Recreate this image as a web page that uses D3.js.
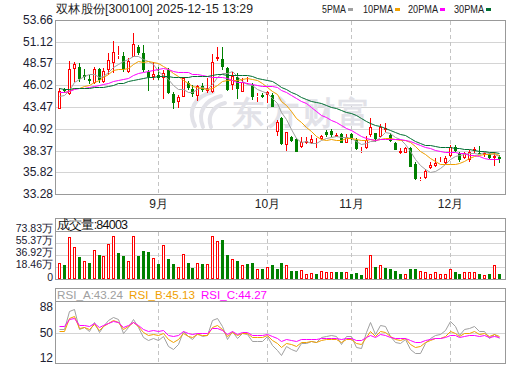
<!DOCTYPE html>
<html>
<head>
<meta charset="utf-8">
<script src="https://cdn.jsdelivr.net/npm/d3@7"></script>
<style>
  body { margin: 0; background: #fff; }
  svg text { font-family: "Liberation Sans", Arial, sans-serif; }
</style>
</head>
<body>
<div id="chart"></div>
<script>
// ---- data ----
var title = "双林股份[300100] 2025-12-15 13:29";
var volTitle = "成交量:84003";
var rsiTitles = ["RSI_A:43.24", "RSI_B:45.13", "RSI_C:44.27"];

var dates = [
  "08-04","08-05","08-06","08-07","08-08","08-11","08-12","08-13","08-14","08-15",
  "08-18","08-19","08-20","08-21","08-22","08-25","08-26","08-27","08-28","08-29",
  "09-01","09-02","09-03","09-04","09-05","09-08","09-09","09-10","09-11","09-12",
  "09-15","09-16","09-17","09-18","09-19","09-22","09-23","09-24","09-25","09-26",
  "09-29","09-30","10-09","10-10","10-13","10-14","10-15","10-16","10-17","10-20",
  "10-21","10-22","10-23","10-24","10-27","10-28","10-29","10-30","10-31","11-03",
  "11-04","11-05","11-06","11-07","11-10","11-11","11-12","11-13","11-14","11-17",
  "11-18","11-19","11-20","11-21","11-24","11-25","11-26","11-27","11-28","12-01",
  "12-02","12-03","12-04","12-05","12-08","12-09","12-10","12-11","12-12","12-15"
];

var open = [
  43.19,45.58,44.99,47.92,48.11,47.22,46.79,46.24,47.88,46.44,
  47.80,48.66,49.44,49.44,47.61,49.36,50.46,49.75,47.61,47.02,
  47.22,46.83,47.80,44.99,44.09,44.68,46.32,45.54,44.76,45.97,
  45.38,45.26,49.05,49.05,48.00,46.05,46.94,45.26,46.25,46.05,
  44.68,44.87,44.87,44.87,40.58,42.14,39.02,39.99,39.68,38.82,
  39.29,39.29,39.45,39.68,40.58,40.66,39.99,40.30,39.21,40.30,
  39.60,38.16,38.63,40.19,40.38,39.99,40.77,40.19,39.29,38.04,
  38.12,38.63,36.79,34.95,35.11,36.36,36.56,36.87,36.87,37.73,
  38.82,38.04,37.45,37.26,38.31,38.10,37.90,37.92,37.45,37.57
];
var close = [
  45.34,45.30,47.88,48.51,46.71,46.94,46.51,47.88,46.63,47.69,
  48.97,49.87,49.60,47.88,48.90,50.85,49.75,47.80,46.94,47.29,
  46.83,47.41,45.07,43.90,44.60,46.83,45.65,44.99,45.97,45.46,
  45.65,48.70,49.29,48.11,45.46,47.10,45.54,46.44,46.40,44.68,
  44.76,44.68,45.26,43.51,41.75,39.13,40.50,39.52,38.23,39.41,
  39.52,39.68,39.52,40.11,40.15,40.22,40.15,39.29,39.91,39.85,
  38.51,38.31,39.60,41.09,39.68,41.09,40.97,39.52,38.43,38.31,
  38.63,36.48,34.99,35.03,36.01,36.63,36.95,37.06,37.53,38.82,
  38.31,37.26,38.04,38.23,38.51,38.00,38.06,37.45,37.73,37.34
];
var high = [
  45.65,45.73,48.90,48.70,48.58,47.88,47.22,48.11,48.08,48.00,
  49.75,51.20,50.61,49.87,49.17,52.18,50.73,50.73,47.80,48.78,
  48.19,47.80,48.00,45.26,44.87,47.02,46.51,46.05,46.05,46.24,
  46.83,49.64,50.46,50.54,48.11,47.61,47.41,46.83,46.94,46.24,
  45.07,45.15,45.38,45.07,41.94,42.34,40.58,40.07,39.80,39.99,
  39.91,40.19,39.80,40.19,40.77,40.85,40.38,40.46,40.30,40.38,
  39.80,38.74,40.07,42.14,40.46,41.48,41.55,40.38,39.41,38.63,
  38.82,38.82,37.06,35.31,36.17,37.06,37.45,37.65,37.73,39.02,
  39.02,38.23,38.23,38.43,38.74,38.90,38.23,38.12,38.23,37.85
];
var low = [
  43.19,45.15,44.87,46.44,46.44,46.63,46.16,46.16,46.24,46.24,
  47.22,47.41,49.05,47.61,47.41,49.29,49.56,47.61,45.38,46.63,
  46.63,44.37,44.99,43.19,43.31,44.60,45.46,44.68,44.21,45.26,
  45.15,45.07,48.90,47.80,45.38,45.46,44.41,45.26,46.16,44.29,
  44.09,44.48,43.90,43.43,40.07,39.02,38.35,39.41,38.23,38.70,
  39.13,39.13,38.63,39.60,39.91,39.99,39.91,39.29,39.21,39.60,
  38.43,38.04,38.51,39.99,39.41,39.91,40.58,39.41,38.43,37.96,
  38.04,36.48,34.92,34.84,34.99,36.20,36.40,36.87,36.79,37.65,
  38.23,37.06,37.34,37.06,38.04,37.96,37.65,37.34,36.60,36.95
];
// volume in 万 (10k)
var volume = [
  24,21,65,49,33.5,27,24,44,37,35,
  54,66,40,35,27,66,35,43,41,33,
  22.5,52,30,22.5,18,39,24,17,24,22.5,
  22.5,66,58,60,37,30,28,21,23,24,
  16,14.7,19,21,16,24,22,12.6,12,14,
  8.4,9.4,8.4,12,11,11,10.5,11,11,8.4,
  9.4,6.8,17,37,19,22,17,14.7,12.6,7.3,
  7.3,14.7,16,12,11,8.4,11,8.4,8.4,16,
  10,7.3,10,11,10,8.4,6.8,8.4,22,8.4
];
// closes before the window, only used to warm up MA / RSI
var prevClose = [
  46.8,47.1,46.6,46.2,46.9,46.5,46.0,45.9,46.3,46.0,
  45.6,45.2,44.9,45.0,45.4,45.1,44.8,45.3,45.7,45.6,
  45.9,46.2,45.8,45.6,45.3,44.9,44.5,44.3,44.76
];

var priceTicks = [53.66, 51.12, 48.57, 46.02, 43.47, 40.92, 38.37, 35.82, 33.28];
var volTicks = [73.83, 55.37, 36.92, 18.46, 0];
var rsiTicks = [88, 50, 12];
var maDays = [5, 10, 20, 30];
var maNames = ["5PMA", "10PMA", "20PMA", "30PMA"];
var rsiDays = [6, 12, 24];

// ---- style ----
var red = "#ff0000", green = "#008000";
var maColors = ["#a0a0a0", "#f0a000", "#ff00ff", "#006e32"];
var rsiColors = ["#a0a0a0", "#f0a000", "#ff00ff"];
var frameColor = "#999", gridColor = "#d4d4d4", dashColor = "#c4c4c4";
var L = 55, R = 505;

var svg = d3.select("#chart").append("svg")
    .attr("width", 520)
    .attr("height", 365);

var x = d3.scaleBand().domain(d3.range(dates.length)).range([57, 502]);
var y = d3.scaleLinear().domain([33.28, 53.66]).rangeRound([194, 20]);
var vy = d3.scaleLinear().domain([0, 73.83]).rangeRound([279, 231]);
var ry = d3.scaleLinear().domain([12, 88]).rangeRound([358, 307]);

function col(i) { return Math.floor(x(i) + x.bandwidth() / 2); }

// indicators
var allClose = prevClose.concat(close);
var off = prevClose.length;
function maSeries(n) {
  return close.map(function(c, i) {
    var k = off + i;
    return d3.mean(allClose.slice(k - n + 1, k + 1));
  });
}
function rsiSeries(n) {
  var out = [], up = null, dn = null;
  for (var k = 1; k < allClose.length; k++) {
    var d = allClose[k] - allClose[k - 1];
    var u = Math.max(d, 0), a = Math.abs(d);
    if (up === null) { up = u; dn = a; }
    else { up = (u + (n - 1) * up) / n; dn = (a + (n - 1) * dn) / n; }
    if (k >= off) out.push(dn === 0 ? 50 : up / dn * 100);
  }
  return out;
}

// month starts
var monthStarts = [];
dates.forEach(function(d, i) {
  if (i > 0 && d.slice(0, 2) !== dates[i - 1].slice(0, 2)) monthStarts.push(i);
});

// ---- header ----
svg.append("text")
    .attr("x", 56).attr("y", 13)
    .attr("font-family", "'Noto Sans CJK SC', sans-serif")
    .attr("font-size", 12)
    .attr("fill", "#222")
    .attr("textLength", 197)
    .attr("lengthAdjust", "spacingAndGlyphs")
    .text(title);

var legendX = [322, 363, 408, 454], legendW = [24, 30, 30, 30];
maNames.forEach(function(name, k) {
  svg.append("text")
      .attr("x", legendX[k]).attr("y", 13)
      .attr("font-size", 11)
      .attr("fill", "#222")
      .attr("textLength", legendW[k])
      .attr("lengthAdjust", "spacingAndGlyphs")
      .text(name);
  svg.append("rect")
      .attr("x", legendX[k] + legendW[k] + 2).attr("y", 8)
      .attr("width", 5).attr("height", 3)
      .attr("fill", maColors[k]);
});

// ---- main panel ----
var main = svg.append("g");

main.append("g")
    .attr("transform", "translate(" + L + ",0)")
    .call(d3.axisLeft(y).tickValues(priceTicks).tickSize(-(R - L)).tickFormat(""))
    .call(function(g) { g.select(".domain").remove(); })
    .selectAll("line").attr("stroke", gridColor);

main.append("g")
    .attr("transform", "translate(" + L + ",0)")
    .call(d3.axisLeft(y).tickValues(priceTicks).tickSize(0).tickPadding(2).tickFormat(d3.format(".2f")))
    .call(function(g) { g.select(".domain").remove(); })
    .selectAll("text")
    .attr("font-size", 12)
    .attr("fill", "#202030");

function dashes(g, y0, y1) {
  g.selectAll(null)
    .data(monthStarts)
    .enter().append("line")
    .attr("x1", function(i) { return col(i) + 0.5; })
    .attr("x2", function(i) { return col(i) + 0.5; })
    .attr("y1", y0).attr("y2", y1)
    .attr("stroke", dashColor)
    .attr("stroke-dasharray", "4,3");
}
dashes(main, 21, 194);

// watermark
var wm = main.append("g").attr("fill", "none").attr("stroke", "#e2e2e8")
    .attr("stroke-width", 4).attr("stroke-linecap", "round");
wm.append("path").attr("d", "M195,126 C187,110 195,96 213,92");
wm.append("path").attr("d", "M203,127 C197,112 205,100 221,96");
wm.append("path").attr("d", "M211,127 C207,116 213,106 225,103");
main.append("text")
    .attr("x", 232).attr("y", 124)
    .attr("font-family", "'Noto Sans CJK SC', sans-serif")
    .attr("font-weight", "bold")
    .attr("font-size", 32)
    .attr("fill", "#e2e2e8")
    .attr("textLength", 138)
    .text("东方财富");

// candles
var candles = main.selectAll(".candle")
    .data(close)
    .enter().append("g")
    .attr("class", "candle");

candles.each(function(c, i) {
  var g = d3.select(this);
  var o = open[i], up = c >= o;
  var top = y(Math.max(o, c)), bot = y(Math.min(o, c));
  var cx = col(i) + 0.5;
  var color = up ? red : green;
  g.append("line").attr("x1", cx).attr("x2", cx)
      .attr("y1", y(high[i])).attr("y2", top).attr("stroke", color);
  g.append("line").attr("x1", cx).attr("x2", cx)
      .attr("y1", bot).attr("y2", y(low[i])).attr("stroke", color);
  if (up) {
    g.append("rect")
        .attr("x", col(i) - 0.5).attr("y", top + 0.5)
        .attr("width", 2).attr("height", Math.max(0, bot - top - 1))
        .attr("fill", "#fff").attr("stroke", red);
  } else {
    g.append("rect")
        .attr("x", col(i) - 1).attr("y", top)
        .attr("width", 3).attr("height", Math.max(1, bot - top))
        .attr("fill", green);
  }
});

// moving averages
maDays.forEach(function(n, k) {
  main.append("path")
      .datum(maSeries(n))
      .attr("fill", "none")
      .attr("stroke", maColors[k])
      .attr("stroke-width", 1)
      .attr("d", d3.line()
          .x(function(d, i) { return col(i) + 0.5; })
          .y(function(d) { return y(d) + 0.5; }));
});

main.append("rect")
    .attr("x", L + 0.5).attr("y", 20.5)
    .attr("width", R - L).attr("height", 174)
    .attr("fill", "none").attr("stroke", frameColor);

// month labels
svg.selectAll(".month")
    .data(monthStarts)
    .enter().append("text")
    .attr("class", "month")
    .attr("x", function(i) { return col(i) + 0.5; })
    .attr("y", 208)
    .attr("text-anchor", "middle")
    .attr("font-family", "'Noto Sans CJK SC', sans-serif")
    .attr("font-size", 12)
    .attr("fill", "#222")
    .text(function(i) { return (+dates[i].slice(0, 2)) + "月"; });

// ---- volume panel ----
var vol = svg.append("g");
vol.append("g")
    .attr("transform", "translate(" + L + ",0)")
    .call(d3.axisLeft(vy).tickValues(volTicks.slice(1, 4)).tickSize(-(R - L)).tickFormat(""))
    .call(function(g) { g.select(".domain").remove(); })
    .selectAll("line").attr("stroke", gridColor);
dashes(vol, 232, 279);

vol.selectAll(null)
    .data(volTicks)
    .enter().append("text")
    .attr("x", 53)
    .attr("y", function(v) { return v === 0 ? vy(v) + 2 : vy(v) + 1; })
    .attr("text-anchor", "end")
    .attr("font-size", 10.5)
    .attr("fill", "#202030")
    .text(function(v) { return v === 0 ? "0" : d3.format(".2f")(v) + "万"; });

vol.selectAll(".vbar")
    .data(volume)
    .enter().append("rect")
    .attr("class", "vbar")
    .each(function(v, i) {
      var prev = i > 0 ? close[i - 1] : prevClose[prevClose.length - 1];
      var up = close[i] >= prev;
      var r = d3.select(this);
      if (up) {
        r.attr("x", col(i) - 0.5).attr("y", vy(v) + 0.5)
         .attr("width", 2).attr("height", Math.max(0, vy(0) - vy(v) - 1))
         .attr("fill", "#fff").attr("stroke", red);
      } else {
        r.attr("x", col(i) - 1).attr("y", vy(v))
         .attr("width", 3).attr("height", vy(0) - vy(v))
         .attr("fill", green);
      }
    });

vol.append("rect")
    .attr("x", L + 0.5).attr("y", 218.5)
    .attr("width", R - L).attr("height", 61)
    .attr("fill", "none").attr("stroke", frameColor);
vol.append("line")
    .attr("x1", L).attr("x2", R)
    .attr("y1", 231.5).attr("y2", 231.5)
    .attr("stroke", frameColor);
vol.append("text")
    .attr("x", 57).attr("y", 229)
    .attr("font-family", "'Noto Sans CJK SC', sans-serif")
    .attr("font-size", 12.5)
    .attr("fill", "#111")
    .attr("textLength", 71)
    .text(volTitle);

// ---- RSI panel ----
var rsi = svg.append("g");
svg.append("clipPath").attr("id", "rsiclip")
    .append("rect").attr("x", L + 1).attr("y", 302).attr("width", R - L - 1).attr("height", 61);

rsi.append("line")
    .attr("x1", L).attr("x2", R)
    .attr("y1", ry(50) + 0.5).attr("y2", ry(50) + 0.5)
    .attr("stroke", gridColor);
dashes(rsi, 302, 363);

rsi.append("g")
    .attr("transform", "translate(" + L + ",0)")
    .call(d3.axisLeft(ry).tickValues(rsiTicks).tickSize(0).tickPadding(2))
    .call(function(g) { g.select(".domain").remove(); })
    .selectAll("text")
    .attr("font-size", 12)
    .attr("fill", "#202030");

rsiDays.forEach(function(n, k) {
  rsi.append("path")
      .datum(rsiSeries(n))
      .attr("clip-path", "url(#rsiclip)")
      .attr("fill", "none")
      .attr("stroke", rsiColors[k])
      .attr("stroke-width", 1)
      .attr("d", d3.line()
          .x(function(d, i) { return col(i) + 0.5; })
          .y(function(d) { return ry(d) + 0.5; }));
});

rsi.append("rect")
    .attr("x", L + 0.5).attr("y", 288.5)
    .attr("width", R - L).attr("height", 75)
    .attr("fill", "none").attr("stroke", frameColor);
rsi.append("line")
    .attr("x1", L).attr("x2", R)
    .attr("y1", 301.5).attr("y2", 301.5)
    .attr("stroke", frameColor);

var rsiTitleX = [57, 129, 201];
rsiTitles.forEach(function(t, k) {
  rsi.append("text")
      .attr("x", rsiTitleX[k]).attr("y", 299)
      .attr("font-family", "'Liberation Mono', monospace")
      .attr("font-size", 11)
      .attr("fill", rsiColors[k])
      .attr("textLength", 66)
      .attr("lengthAdjust", "spacingAndGlyphs")
      .text(t);
});
</script>
</body>
</html>
